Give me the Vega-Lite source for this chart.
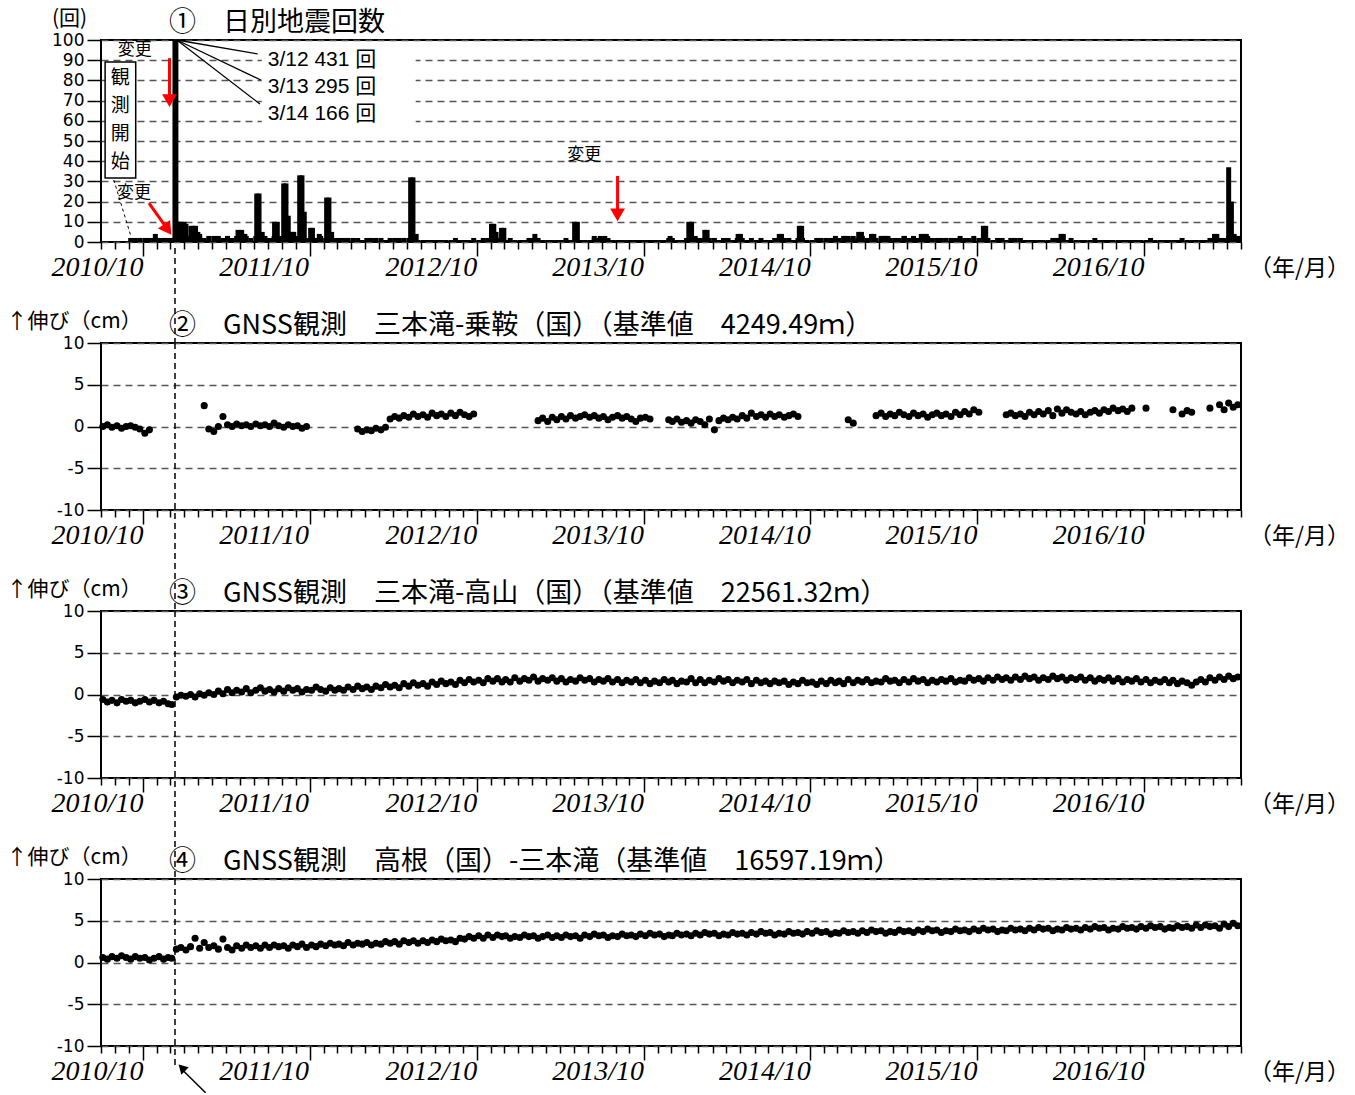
{
"$schema":"https://vega.github.io/schema/vega-lite/v6.json",
"background":"white",
"padding":{"left":5,"top":6,"right":10,"bottom":5},
"bounds":"flush",
"spacing":101,
"config":{
 "font":"Noto Sans CJK JP",
 "view":{"stroke":"black","strokeWidth":2},
 "title":{"anchor":"start","frame":"group","font":"Noto Sans CJK JP","fontSize":27,"fontWeight":"normal","color":"black","offset":4,"dx":68,"dy":34},
 "axis":{"domain":false,"tickColor":"black","tickWidth":1.5,"labelColor":"black","titleColor":"black","titleFontWeight":"normal","titleFont":"Noto Sans CJK JP"},
 "axisY":{"grid":true,"gridColor":"#555555","gridDash":[7,5],"gridWidth":1.3,"tickSize":14,"labelFont":"DejaVu Sans","labelFontSize":17,"labelPadding":3,"labelOverlap":false,"titleAngle":0,"titleBaseline":"middle","titleFontSize":21},
 "axisX":{"grid":false}
},
"datasets":{
"g":[
{"d":"2010-10-05","a":0.0,"b":-0.6,"c":0.6},
{"d":"2010-10-15","a":0.2,"b":-0.9,"c":0.4},
{"d":"2010-10-25","a":-0.1,"b":-0.7,"c":0.7},
{"d":"2010-11-05","a":0.1,"b":-1.0,"c":0.5},
{"d":"2010-11-15","a":-0.2,"b":-0.6,"c":0.8},
{"d":"2010-11-25","a":0.0,"b":-0.8,"c":0.6},
{"d":"2010-12-05","q":2,"a":0.1,"b":-0.7,"c":0.4},
{"d":"2010-12-15","q":2,"a":-0.1,"b":-1.0,"c":0.7},
{"d":"2010-12-25","q":2,"a":-0.3,"b":-0.8,"c":0.5},
{"d":"2011-01-05","q":2,"a":-0.8,"b":-0.6,"c":0.6},
{"d":"2011-01-15","q":2,"a":-0.4,"b":-0.9,"c":0.3},
{"d":"2011-01-25","q":2,"b":-0.7,"c":0.5},
{"d":"2011-02-05","q":2,"b":-1.0,"c":0.7},
{"d":"2011-02-15","q":2,"b":-0.8,"c":0.4},
{"d":"2011-02-25","q":2,"b":-1.1,"c":0.6},
{"d":"2011-03-05","q":2,"b":-1.2,"c":0.5},
{"d":"2011-03-15","q":3,"b":-0.3,"c":1.6},
{"d":"2011-03-25","q":3,"b":-0.1,"c":1.8},
{"d":"2011-04-05","q":3,"b":-0.2,"c":1.5},
{"d":"2011-04-15","q":3,"b":0.0,"c":1.9},
{"d":"2011-04-25","q":3,"b":-0.3,"c":2.9},
{"d":"2011-05-05","q":3,"b":0.1,"c":1.7},
{"d":"2011-05-15","q":2,"a":2.5,"b":-0.1,"c":2.4},
{"d":"2011-05-25","q":3,"a":-0.3,"b":0.2,"c":1.8},
{"d":"2011-06-05","q":3,"a":-0.6,"b":0.0,"c":2.0},
{"d":"2011-06-15","q":3,"a":0.0,"b":0.4,"c":1.6},
{"d":"2011-06-25","q":2,"a":1.2,"b":0.1,"c":2.8},
{"d":"2011-07-05","q":3,"a":0.2,"b":0.6,"c":1.8},
{"d":"2011-07-15","q":2,"a":0.0,"b":0.2,"c":1.5},
{"d":"2011-07-25","q":3,"a":0.3,"b":0.5,"c":2.0},
{"d":"2011-08-05","q":2,"a":0.1,"b":0.3,"c":1.7},
{"d":"2011-08-15","q":3,"a":0.2,"b":0.7,"c":2.1},
{"d":"2011-08-25","q":2,"a":0.0,"b":0.2,"c":1.8},
{"d":"2011-09-05","q":3,"a":0.3,"b":0.5,"c":2.0},
{"d":"2011-09-15","q":2,"a":0.1,"b":0.8,"c":1.7},
{"d":"2011-09-25","q":3,"a":0.2,"b":0.4,"c":2.1},
{"d":"2011-10-05","q":2,"a":0.0,"b":0.6,"c":1.8},
{"d":"2011-10-15","q":3,"a":0.4,"b":0.3,"c":2.1},
{"d":"2011-10-25","q":3,"a":0.1,"b":0.7,"c":1.9},
{"d":"2011-11-05","q":3,"a":-0.1,"b":0.4,"c":2.0},
{"d":"2011-11-15","q":2,"a":0.2,"b":0.8,"c":1.7},
{"d":"2011-11-25","q":3,"a":0.0,"b":0.5,"c":2.1},
{"d":"2011-12-05","q":3,"a":0.1,"b":0.7,"c":1.9},
{"d":"2011-12-15","q":3,"a":-0.2,"b":0.3,"c":2.2},
{"d":"2011-12-25","q":2,"a":0.0,"b":0.6,"c":1.8},
{"d":"2012-01-05","q":3,"b":0.5,"c":2.1},
{"d":"2012-01-15","q":2,"b":0.9,"c":1.9},
{"d":"2012-01-25","q":3,"b":0.6,"c":2.2},
{"d":"2012-02-05","q":2,"b":0.4,"c":2.0},
{"d":"2012-02-15","q":3,"b":0.8,"c":2.3},
{"d":"2012-02-25","q":2,"b":0.5,"c":2.1},
{"d":"2012-03-05","q":2,"b":0.7,"c":2.2},
{"d":"2012-03-15","q":2,"b":0.5,"c":2.0},
{"d":"2012-03-25","q":2,"b":0.9,"c":2.4},
{"d":"2012-04-05","q":2,"b":0.6,"c":2.1},
{"d":"2012-04-15","q":2,"a":-0.3,"b":1.0,"c":2.3},
{"d":"2012-04-25","q":1,"a":-0.6,"b":0.7,"c":2.2},
{"d":"2012-05-05","q":2,"a":-0.4,"b":0.9,"c":2.4},
{"d":"2012-05-15","q":2,"a":-0.5,"b":0.6,"c":2.1},
{"d":"2012-05-25","q":2,"a":-0.2,"b":1.0,"c":2.3},
{"d":"2012-06-05","q":2,"a":-0.4,"b":0.8,"c":2.2},
{"d":"2012-06-15","q":1,"a":-0.1,"b":1.2,"c":2.5},
{"d":"2012-06-25","q":2,"a":0.9,"b":0.9,"c":2.3},
{"d":"2012-07-05","q":2,"a":1.2,"b":1.1,"c":2.5},
{"d":"2012-07-15","q":2,"a":1.0,"b":0.8,"c":2.2},
{"d":"2012-07-25","q":2,"a":1.3,"b":1.3,"c":2.6},
{"d":"2012-08-05","q":2,"a":1.1,"b":1.0,"c":2.4},
{"d":"2012-08-15","q":2,"a":1.5,"b":1.4,"c":2.6},
{"d":"2012-08-25","q":1,"a":1.2,"b":1.1,"c":2.3},
{"d":"2012-09-05","q":1,"a":1.4,"b":1.3,"c":2.6},
{"d":"2012-09-15","q":1,"a":1.1,"b":1.0,"c":2.4},
{"d":"2012-09-25","q":1,"a":1.6,"b":1.5,"c":2.7},
{"d":"2012-10-05","q":1,"a":1.3,"b":1.2,"c":2.5},
{"d":"2012-10-15","q":1,"a":1.5,"b":1.6,"c":2.8},
{"d":"2012-10-25","q":1,"a":1.2,"b":1.3,"c":2.6},
{"d":"2012-11-05","q":1,"a":1.6,"b":1.5,"c":2.7},
{"d":"2012-11-15","q":2,"a":1.3,"b":1.2,"c":2.5},
{"d":"2012-11-25","q":1,"a":1.7,"b":1.7,"c":2.9},
{"d":"2012-12-05","q":1,"a":1.4,"b":1.4,"c":2.8},
{"d":"2012-12-15","q":1,"a":1.2,"b":1.8,"c":3.1},
{"d":"2012-12-25","q":2,"a":1.5,"b":1.5,"c":2.9},
{"d":"2013-01-05","q":1,"b":1.7,"c":3.2},
{"d":"2013-01-15","q":2,"b":1.4,"c":2.9},
{"d":"2013-01-25","q":2,"b":1.9,"c":3.3},
{"d":"2013-02-05","q":2,"b":1.6,"c":3.0},
{"d":"2013-02-15","q":2,"b":1.9,"c":3.3},
{"d":"2013-02-25","q":2,"b":1.5,"c":3.1},
{"d":"2013-03-05","q":1,"b":1.8,"c":3.2},
{"d":"2013-03-15","q":2,"b":1.5,"c":2.9},
{"d":"2013-03-25","q":1,"b":2.0,"c":3.1},
{"d":"2013-04-05","q":1,"b":1.6,"c":3.0},
{"d":"2013-04-15","q":1,"b":1.9,"c":3.3},
{"d":"2013-04-25","q":2,"b":1.7,"c":3.1},
{"d":"2013-05-05","q":2,"b":2.1,"c":3.2},
{"d":"2013-05-15","q":2,"a":0.7,"b":1.6,"c":2.9},
{"d":"2013-05-25","q":1,"a":1.0,"b":1.9,"c":3.1},
{"d":"2013-06-05","q":1,"a":0.6,"b":1.7,"c":3.3},
{"d":"2013-06-15","q":1,"a":1.1,"b":2.0,"c":3.0},
{"d":"2013-06-25","q":1,"a":0.8,"b":1.6,"c":3.2},
{"d":"2013-07-05","q":1,"a":1.2,"b":1.9,"c":3.0},
{"d":"2013-07-15","q":2,"a":0.9,"b":1.5,"c":3.3},
{"d":"2013-07-25","q":1,"a":1.3,"b":1.8,"c":3.1},
{"d":"2013-08-05","q":2,"a":1.0,"b":1.6,"c":3.2},
{"d":"2013-08-15","q":1,"a":1.2,"b":2.0,"c":2.9},
{"d":"2013-08-25","q":1,"a":1.4,"b":1.7,"c":3.3},
{"d":"2013-09-05","q":1,"a":1.1,"b":1.9,"c":3.1},
{"d":"2013-09-15","q":2,"a":1.3,"b":1.5,"c":3.4},
{"d":"2013-09-25","q":2,"a":1.0,"b":1.8,"c":3.2},
{"d":"2013-10-05","q":2,"a":1.2,"b":1.6,"c":3.3},
{"d":"2013-10-15","q":2,"a":0.8,"b":1.9,"c":3.0},
{"d":"2013-10-25","q":1,"a":1.1,"b":1.5,"c":3.2},
{"d":"2013-11-05","q":1,"a":1.3,"b":1.8,"c":3.1},
{"d":"2013-11-15","q":1,"a":1.0,"b":1.4,"c":3.4},
{"d":"2013-11-25","q":1,"a":1.2,"b":1.7,"c":3.2},
{"d":"2013-12-05","q":1,"a":0.9,"b":1.5,"c":3.3},
{"d":"2013-12-15","q":1,"a":0.6,"b":1.8,"c":3.1},
{"d":"2013-12-25","q":1,"a":1.0,"b":1.4,"c":3.4},
{"d":"2014-01-05","q":1,"a":1.1,"b":1.7,"c":3.2},
{"d":"2014-01-15","q":1,"a":0.9,"b":1.3,"c":3.5},
{"d":"2014-01-25","q":1,"b":1.6,"c":3.3},
{"d":"2014-02-05","q":1,"b":1.4,"c":3.4},
{"d":"2014-02-15","q":1,"b":1.8,"c":3.1},
{"d":"2014-02-25","q":2,"a":0.8,"b":1.5,"c":3.3},
{"d":"2014-03-05","q":2,"a":0.6,"b":1.7,"c":3.2},
{"d":"2014-03-15","q":1,"a":0.9,"b":1.3,"c":3.5},
{"d":"2014-03-25","q":1,"a":0.5,"b":1.6,"c":3.3},
{"d":"2014-04-05","q":2,"a":0.7,"b":1.5,"c":3.4},
{"d":"2014-04-15","q":2,"a":0.4,"b":1.9,"c":3.2},
{"d":"2014-04-25","q":2,"a":0.8,"b":1.4,"c":3.5},
{"d":"2014-05-05","q":2,"a":0.6,"b":1.8,"c":3.3},
{"d":"2014-05-15","q":2,"a":0.2,"b":1.4,"c":3.6},
{"d":"2014-05-25","q":2,"a":0.9,"b":1.7,"c":3.4},
{"d":"2014-06-05","q":2,"a":-0.4,"b":1.5,"c":3.5},
{"d":"2014-06-15","q":1,"a":0.7,"b":1.9,"c":3.2},
{"d":"2014-06-25","q":2,"a":1.0,"b":1.6,"c":3.4},
{"d":"2014-07-05","q":2,"a":0.8,"b":1.8,"c":3.3},
{"d":"2014-07-15","q":1,"a":1.1,"b":1.4,"c":3.6},
{"d":"2014-07-25","q":2,"a":0.9,"b":1.7,"c":3.4},
{"d":"2014-08-05","q":2,"a":1.3,"b":1.5,"c":3.5},
{"d":"2014-08-15","q":1,"a":1.0,"b":1.8,"c":3.3},
{"d":"2014-08-25","q":2,"a":1.6,"b":1.3,"c":3.6},
{"d":"2014-09-05","q":1,"a":1.2,"b":1.7,"c":3.4},
{"d":"2014-09-15","q":2,"a":1.4,"b":1.4,"c":3.7},
{"d":"2014-09-25","q":1,"a":1.1,"b":1.6,"c":3.5},
{"d":"2014-10-05","q":1,"a":1.5,"b":1.3,"c":3.6},
{"d":"2014-10-15","q":2,"a":1.2,"b":1.6,"c":3.3},
{"d":"2014-10-25","q":2,"a":1.4,"b":1.4,"c":3.5},
{"d":"2014-11-05","q":2,"a":1.1,"b":1.6,"c":3.4},
{"d":"2014-11-15","q":2,"a":1.3,"b":1.2,"c":3.7},
{"d":"2014-11-25","q":1,"a":1.5,"b":1.5,"c":3.5},
{"d":"2014-12-05","q":2,"a":1.2,"b":1.3,"c":3.6},
{"d":"2014-12-15","q":2,"b":1.7,"c":3.4},
{"d":"2014-12-25","q":1,"b":1.4,"c":3.7},
{"d":"2015-01-05","q":1,"b":1.5,"c":3.5},
{"d":"2015-01-15","q":2,"b":1.2,"c":3.8},
{"d":"2015-01-25","q":2,"b":1.6,"c":3.6},
{"d":"2015-02-05","q":2,"b":1.3,"c":3.7},
{"d":"2015-02-15","q":2,"b":1.7,"c":3.4},
{"d":"2015-02-25","q":3,"b":1.4,"c":3.6},
{"d":"2015-03-05","q":2,"b":1.6,"c":3.5},
{"d":"2015-03-15","q":3,"b":1.3,"c":3.8},
{"d":"2015-03-25","q":2,"a":0.8,"b":1.8,"c":3.6},
{"d":"2015-04-05","q":3,"a":0.4,"b":1.4,"c":3.7},
{"d":"2015-04-15","q":2,"b":1.7,"c":3.5},
{"d":"2015-04-25","q":3,"b":1.5,"c":3.8},
{"d":"2015-05-05","q":2,"b":1.8,"c":3.6},
{"d":"2015-05-15","q":3,"b":1.4,"c":3.9},
{"d":"2015-05-25","q":2,"a":1.3,"b":1.6,"c":3.7},
{"d":"2015-06-05","q":3,"a":1.6,"b":1.5,"c":3.8},
{"d":"2015-06-15","q":3,"a":1.2,"b":1.9,"c":3.5},
{"d":"2015-06-25","q":2,"a":1.5,"b":1.6,"c":3.7},
{"d":"2015-07-05","q":2,"a":1.3,"b":1.7,"c":3.6},
{"d":"2015-07-15","q":2,"a":1.7,"b":1.4,"c":3.9},
{"d":"2015-07-25","q":3,"a":1.4,"b":1.8,"c":3.7},
{"d":"2015-08-05","q":2,"a":1.2,"b":1.5,"c":3.8},
{"d":"2015-08-15","q":3,"a":1.6,"b":1.9,"c":3.6},
{"d":"2015-08-25","q":2,"a":1.3,"b":1.6,"c":3.9},
{"d":"2015-09-05","q":3,"a":1.5,"b":1.8,"c":3.7},
{"d":"2015-09-15","q":3,"a":1.1,"b":1.4,"c":4.0},
{"d":"2015-09-25","q":2,"a":1.4,"b":1.7,"c":3.8},
{"d":"2015-10-05","q":2,"a":1.6,"b":1.5,"c":3.9},
{"d":"2015-10-15","q":2,"a":1.3,"b":1.8,"c":3.6},
{"d":"2015-10-25","q":2,"a":1.5,"b":1.6,"c":3.8},
{"d":"2015-11-05","q":2,"a":1.2,"b":1.9,"c":3.7},
{"d":"2015-11-15","q":2,"a":1.7,"b":1.5,"c":4.0},
{"d":"2015-11-25","q":3,"a":1.4,"b":1.7,"c":3.8},
{"d":"2015-12-05","q":2,"a":1.8,"b":1.6,"c":3.9},
{"d":"2015-12-15","q":2,"a":1.5,"b":2.0,"c":3.7},
{"d":"2015-12-25","q":3,"a":2.0,"b":1.7,"c":4.0},
{"d":"2016-01-05","q":2,"a":1.7,"b":1.9,"c":3.8},
{"d":"2016-01-15","q":2,"b":1.6,"c":4.1},
{"d":"2016-01-25","q":2,"b":2.0,"c":3.9},
{"d":"2016-02-05","q":1,"b":1.7,"c":4.0},
{"d":"2016-02-15","q":2,"b":2.1,"c":3.7},
{"d":"2016-02-25","q":2,"b":1.8,"c":3.9},
{"d":"2016-03-05","q":1,"a":1.4,"b":2.0,"c":3.8},
{"d":"2016-03-15","q":2,"a":1.6,"b":1.7,"c":4.1},
{"d":"2016-03-25","q":2,"a":1.3,"b":2.1,"c":3.9},
{"d":"2016-04-05","q":2,"a":1.5,"b":1.8,"c":4.0},
{"d":"2016-04-15","q":1,"a":1.2,"b":2.2,"c":3.8},
{"d":"2016-04-25","q":1,"a":1.7,"b":1.9,"c":4.1},
{"d":"2016-05-05","q":1,"a":1.4,"b":2.1,"c":3.9},
{"d":"2016-05-15","q":1,"a":1.8,"b":1.7,"c":4.2},
{"d":"2016-05-25","q":1,"a":1.5,"b":2.0,"c":4.0},
{"d":"2016-06-05","q":1,"a":1.9,"b":1.8,"c":4.1},
{"d":"2016-06-15","q":2,"a":1.3,"b":2.2,"c":3.8},
{"d":"2016-06-25","q":2,"a":2.1,"b":1.9,"c":4.0},
{"d":"2016-07-05","q":2,"a":1.6,"b":2.1,"c":3.9},
{"d":"2016-07-15","q":1,"a":2.0,"b":1.7,"c":4.2},
{"d":"2016-07-25","q":2,"a":1.7,"b":2.0,"c":4.0},
{"d":"2016-08-05","q":1,"a":1.5,"b":1.8,"c":4.1},
{"d":"2016-08-15","q":1,"a":1.8,"b":2.1,"c":3.9},
{"d":"2016-08-25","q":1,"a":1.4,"b":1.7,"c":4.2},
{"d":"2016-09-05","q":1,"a":1.7,"b":2.0,"c":4.0},
{"d":"2016-09-15","q":2,"a":1.9,"b":1.6,"c":4.3},
{"d":"2016-09-25","q":1,"a":1.6,"b":1.9,"c":4.1},
{"d":"2016-10-05","q":1,"a":2.0,"b":1.7,"c":4.2},
{"d":"2016-10-15","q":1,"a":1.8,"b":2.0,"c":3.9},
{"d":"2016-10-25","q":1,"a":2.2,"b":1.6,"c":4.1},
{"d":"2016-11-05","q":1,"a":1.9,"b":1.9,"c":4.0},
{"d":"2016-11-15","q":1,"a":2.1,"b":1.5,"c":4.3},
{"d":"2016-11-25","q":1,"a":1.8,"b":1.8,"c":4.1},
{"d":"2016-12-05","q":1,"a":2.2,"b":1.6,"c":4.2},
{"d":"2016-12-15","q":1,"b":1.9,"c":4.0},
{"d":"2016-12-25","q":1,"b":1.5,"c":4.3},
{"d":"2017-01-05","q":1,"a":2.2,"b":1.8,"c":4.1},
{"d":"2017-01-15","q":2,"b":1.4,"c":4.4},
{"d":"2017-01-25","q":1,"b":1.7,"c":4.2},
{"d":"2017-02-05","q":1,"b":1.5,"c":4.3},
{"d":"2017-02-15","q":1,"b":1.8,"c":4.0},
{"d":"2017-02-25","q":1,"b":1.4,"c":4.2},
{"d":"2017-03-05","q":1,"a":2.0,"b":1.7,"c":4.1},
{"d":"2017-03-15","q":1,"b":1.3,"c":4.4},
{"d":"2017-03-25","q":2,"a":1.5,"b":1.6,"c":4.2},
{"d":"2017-04-05","q":1,"a":1.9,"b":1.4,"c":4.3},
{"d":"2017-04-15","q":1,"a":1.7,"b":1.1,"c":4.1},
{"d":"2017-04-25","q":1,"b":1.5,"c":4.5},
{"d":"2017-05-05","q":1,"b":1.8,"c":4.2},
{"d":"2017-05-15","q":1,"b":1.5,"c":4.5},
{"d":"2017-05-25","q":2,"a":2.2,"b":2.0,"c":4.3},
{"d":"2017-06-05","q":2,"b":1.7,"c":4.4},
{"d":"2017-06-15","q":2,"a":2.6,"b":2.1,"c":4.1},
{"d":"2017-06-25","q":2,"a":2.0,"b":1.8,"c":4.6},
{"d":"2017-07-05","q":3,"a":2.8,"b":2.2,"c":4.3},
{"d":"2017-07-15","q":3,"a":2.3,"b":1.9,"c":4.7},
{"d":"2017-07-25","q":3,"a":2.6,"b":2.1,"c":4.4}
],
"s":[
{"d":"2011-01-28","q":4},
{"d":"2011-03-12","q":431},{"d":"2011-03-13","q":295},{"d":"2011-03-14","q":166},
{"d":"2011-03-17","q":10},{"d":"2011-03-22","q":10},{"d":"2011-03-27","q":10},{"d":"2011-04-01","q":10},{"d":"2011-04-05","q":9},{"d":"2011-04-10","q":3},{"d":"2011-04-16","q":8},{"d":"2011-04-21","q":8},{"d":"2011-04-26","q":8},{"d":"2011-05-01","q":5},{"d":"2011-05-05","q":4},
{"d":"2011-07-28","q":6},{"d":"2011-08-05","q":6},{"d":"2011-08-12","q":4},
{"d":"2011-09-07","q":24},{"d":"2011-09-12","q":24},{"d":"2011-09-19","q":5},
{"d":"2011-10-16","q":10},{"d":"2011-10-22","q":10},
{"d":"2011-11-05","q":29},{"d":"2011-11-10","q":29},{"d":"2011-11-15","q":13},{"d":"2011-11-22","q":5},{"d":"2011-11-27","q":5},
{"d":"2011-12-10","q":33},{"d":"2011-12-15","q":33},{"d":"2011-12-20","q":15},
{"d":"2012-01-03","q":7},{"d":"2012-01-07","q":7},{"d":"2012-01-22","q":4},
{"d":"2012-02-07","q":22},{"d":"2012-02-12","q":22},{"d":"2012-02-18","q":5},
{"d":"2012-08-09","q":32},{"d":"2012-08-14","q":32},{"d":"2012-08-21","q":4},
{"d":"2013-02-02","q":9},{"d":"2013-02-07","q":9},{"d":"2013-02-12","q":5},{"d":"2013-02-24","q":7},{"d":"2013-03-01","q":7},
{"d":"2013-05-08","q":4},
{"d":"2013-08-03","q":10},{"d":"2013-08-09","q":10},
{"d":"2013-09-15","q":3},{"d":"2013-09-28","q":3},{"d":"2013-10-08","q":3},
{"d":"2014-02-28","q":3},
{"d":"2014-04-10","q":10},{"d":"2014-04-16","q":10},{"d":"2014-04-24","q":3},
{"d":"2014-05-15","q":6},{"d":"2014-05-20","q":6},
{"d":"2014-07-27","q":4},{"d":"2014-08-01","q":4},
{"d":"2014-10-25","q":4},{"d":"2014-10-30","q":4},
{"d":"2014-12-08","q":8},{"d":"2014-12-13","q":8},
{"d":"2015-03-18","q":3},{"d":"2015-03-25","q":3},
{"d":"2015-04-17","q":5},{"d":"2015-04-23","q":5},
{"d":"2015-05-15","q":4},{"d":"2015-05-20","q":4},
{"d":"2015-06-10","q":3},{"d":"2015-06-20","q":3},
{"d":"2015-07-26","q":3},
{"d":"2015-09-01","q":4},{"d":"2015-09-07","q":4},{"d":"2015-09-12","q":4},
{"d":"2016-01-15","q":8},{"d":"2016-01-20","q":8},
{"d":"2016-07-03","q":4},{"d":"2016-07-08","q":4},
{"d":"2017-06-04","q":4},{"d":"2017-06-09","q":4},
{"d":"2017-07-05","q":37},{"d":"2017-07-11","q":20},{"d":"2017-07-17","q":4}
]
},
"vconcat":[
{
 "width":1140,"height":202,
 "title":{"text":"①　日別地震回数"},
 "encoding":{"x":{"field":"d","type":"temporal","scale":{"type":"utc","padding":0,"domain":[{"year":2010,"month":10,"date":1,"utc":true},{"year":2017,"month":8,"date":1,"utc":true}]},"axis":{"title":"（年/月）","titleX":1198,"titleY":26,"titleAlign":"center","titleBaseline":"middle","titleFontSize":23,"tickCount":{"interval":"month","step":1},"tickSize":{"condition":{"test":"utcmonth(datum.value)===0","value":14},"value":7},"labelExpr":"utcmonth(datum.value)===9 ? utcFormat(datum.value,'%Y/%m') : ''","labelFont":"Liberation Serif","labelFontStyle":"italic","labelFontSize":28,"labelBaseline":"top","labelPadding":4,"labelOffset":-4,"labelOverlap":false,"labelFlush":false,"labelBound":false}}},
 "layer":[
  {"data":{"values":[{"d":"2011-09-18","d2":"2012-08-20","v":57,"v2":96}]},"mark":{"type":"rect","color":"white"},
   "encoding":{"x2":{"field":"d2"},"y":{"field":"v","type":"quantitative","scale":{"domain":[0,100]},"axis":{"values":[0,10,20,30,40,50,60,70,80,90,100],"title":"(回)","titleX":-32,"titleY":-22,"titleAlign":"center"}},"y2":{"field":"v2"}}},
  {"data":{"name":"g"},"mark":{"type":"bar","color":"black","width":5,"clip":true},
   "encoding":{"y":{"field":"q","type":"quantitative","stack":null,"scale":{"domain":[0,100]},"axis":{"values":[0,10,20,30,40,50,60,70,80,90,100],"title":"(回)","titleX":-32,"titleY":-22,"titleAlign":"center"}}}},
  {"data":{"name":"s"},"mark":{"type":"bar","color":"black","width":5,"clip":true},
   "encoding":{"y":{"field":"q","type":"quantitative","stack":null,"scale":{"domain":[0,100]},"axis":{"values":[0,10,20,30,40,50,60,70,80,90,100],"title":"(回)","titleX":-32,"titleY":-22,"titleAlign":"center"}}}},
  {"data":{"values":[{"d":"2010-10-10","d2":"2010-12-16","v":31.7,"v2":89.1}]},"mark":{"type":"rect","fill":"white","stroke":"black","strokeWidth":1.5},
   "encoding":{"x2":{"field":"d2"},"y":{"field":"v","type":"quantitative","scale":{"domain":[0,100]},"axis":{"values":[0,10,20,30,40,50,60,70,80,90,100],"title":"(回)","titleX":-32,"titleY":-22,"titleAlign":"center"}},"y2":{"field":"v2"}}},
  {"data":{"values":[{"d":"2010-11-12","v":81.2,"t":"観\n測\n開\n始"}]},"mark":{"type":"text","lineBreak":"\n","lineHeight":28,"fontSize":19,"align":"center","baseline":"middle","color":"black"},
   "encoding":{"y":{"field":"v","type":"quantitative","scale":{"domain":[0,100]},"axis":{"values":[0,10,20,30,40,50,60,70,80,90,100],"title":"(回)","titleX":-32,"titleY":-22,"titleAlign":"center"}},"text":{"field":"t"}}},
  {"data":{"values":[{"d":"2011-03-16","v":100,"d2":"2011-09-09","v2":93.1},{"d":"2011-03-16","v":100,"d2":"2011-09-16","v2":80.2},{"d":"2011-03-16","v":100,"d2":"2011-09-14","v2":68.3}]},"mark":{"type":"rule","color":"black","strokeWidth":1.3},
   "encoding":{"x2":{"field":"d2"},"y":{"field":"v","type":"quantitative","scale":{"domain":[0,100]},"axis":{"values":[0,10,20,30,40,50,60,70,80,90,100],"title":"(回)","titleX":-32,"titleY":-22,"titleAlign":"center"}},"y2":{"field":"v2"}}},
  {"data":{"values":[{"d":"2010-10-29","v":30.7,"d2":"2010-12-06","v2":2.5}]},"mark":{"type":"rule","color":"black","strokeWidth":1,"strokeDash":[3,3]},
   "encoding":{"x2":{"field":"d2"},"y":{"field":"v","type":"quantitative","scale":{"domain":[0,100]},"axis":{"values":[0,10,20,30,40,50,60,70,80,90,100],"title":"(回)","titleX":-32,"titleY":-22,"titleAlign":"center"}},"y2":{"field":"v2"}}},
  {"data":{"values":[{"d":"2011-03-12","v":-3,"v2":-50}]},"mark":{"type":"rule","color":"black","strokeWidth":1.5,"strokeDash":[6,4]},
   "encoding":{"y":{"field":"v","type":"quantitative","scale":{"domain":[0,100]},"axis":{"values":[0,10,20,30,40,50,60,70,80,90,100],"title":"(回)","titleX":-32,"titleY":-22,"titleAlign":"center"}},"y2":{"field":"v2"}}},
  {"data":{"values":[{"d":"2011-02-28","v":91,"d2":"2011-02-28","v2":72},{"d":"2011-01-14","v":19.3,"d2":"2011-02-22","v2":6.9},{"d":"2013-11-05","v":32.7,"d2":"2013-11-05","v2":15}]},"mark":{"type":"rule","color":"#ff0000","strokeWidth":3},
   "encoding":{"x2":{"field":"d2"},"y":{"field":"v","type":"quantitative","scale":{"domain":[0,100]},"axis":{"values":[0,10,20,30,40,50,60,70,80,90,100],"title":"(回)","titleX":-32,"titleY":-22,"titleAlign":"center"}},"y2":{"field":"v2"}}},
  {"data":{"values":[{"d":"2011-02-28","v":70},{"d":"2013-11-05","v":13.4}]},"mark":{"type":"point","shape":"triangle-down","filled":true,"color":"#ff0000","opacity":1,"size":220},
   "encoding":{"y":{"field":"v","type":"quantitative","scale":{"domain":[0,100]},"axis":{"values":[0,10,20,30,40,50,60,70,80,90,100],"title":"(回)","titleX":-32,"titleY":-22,"titleAlign":"center"}}}},
  {"data":{"values":[{"d":"2011-02-24","v":6.2}]},"mark":{"type":"point","shape":"triangle-down","filled":true,"color":"#ff0000","opacity":1,"size":220,"angle":-35},
   "encoding":{"y":{"field":"v","type":"quantitative","scale":{"domain":[0,100]},"axis":{"values":[0,10,20,30,40,50,60,70,80,90,100],"title":"(回)","titleX":-32,"titleY":-22,"titleAlign":"center"}}}},
  {"data":{"values":[{"d":"2010-12-14","v":95,"t":"変更"},{"d":"2010-12-12","v":24.3,"t":"変更"},{"d":"2013-08-24","v":43.1,"t":"変更"}]},"mark":{"type":"text","fontSize":17,"align":"center","baseline":"middle","color":"black"},
   "encoding":{"y":{"field":"v","type":"quantitative","scale":{"domain":[0,100]},"axis":{"values":[0,10,20,30,40,50,60,70,80,90,100],"title":"(回)","titleX":-32,"titleY":-22,"titleAlign":"center"}},"text":{"field":"t"}}},
  {"data":{"values":[{"d":"2011-10-01","v":90.1,"t":"3/12  431 回"},{"d":"2011-10-01","v":76.7,"t":"3/13  295 回"},{"d":"2011-10-01","v":63.4,"t":"3/14  166 回"}]},"mark":{"type":"text","font":"Liberation Sans, Noto Sans CJK JP","fontSize":21,"align":"left","baseline":"middle","color":"black"},
   "encoding":{"y":{"field":"v","type":"quantitative","scale":{"domain":[0,100]},"axis":{"values":[0,10,20,30,40,50,60,70,80,90,100],"title":"(回)","titleX":-32,"titleY":-22,"titleAlign":"center"}},"text":{"field":"t"}}}
 ]
},
{
 "width":1140,"height":167,
 "title":{"text":"②　GNSS観測　三本滝-乗鞍（国）（基準値　4249.49ｍ）"},
 "encoding":{"x":{"field":"d","type":"temporal","scale":{"type":"utc","domain":[{"year":2010,"month":10,"date":1,"utc":true},{"year":2017,"month":8,"date":1,"utc":true}]},"axis":{"title":"（年/月）","titleX":1198,"titleY":26,"titleAlign":"center","titleBaseline":"middle","titleFontSize":23,"tickCount":{"interval":"month","step":1},"tickSize":{"condition":{"test":"utcmonth(datum.value)===0","value":14},"value":7},"labelExpr":"utcmonth(datum.value)===9 ? utcFormat(datum.value,'%Y/%m') : ''","labelFont":"Liberation Serif","labelFontStyle":"italic","labelFontSize":28,"labelBaseline":"top","labelPadding":4,"labelOffset":-4,"labelOverlap":false,"labelFlush":false,"labelBound":false}}},
 "layer":[
  {"data":{"name":"g"},"mark":{"type":"point","filled":true,"color":"black","opacity":1,"size":50},
   "encoding":{"y":{"field":"a","type":"quantitative","scale":{"domain":[-10,10]},"axis":{"values":[-10,-5,0,5,10],"labelExpr":"datum.value < 0 ? '-' + abs(datum.value) : '' + datum.value","title":"↑伸び（cm）","titleX":-95,"titleY":-22,"titleAlign":"left"}}}},
  {"data":{"values":[{"d":"2011-03-12","v":10,"v2":-22.1}]},"mark":{"type":"rule","color":"black","strokeWidth":1.5,"strokeDash":[6,4]},
   "encoding":{"y":{"field":"v","type":"quantitative","scale":{"domain":[-10,10]}},"y2":{"field":"v2"}}}
 ]
},
{
 "width":1140,"height":167,
 "title":{"text":"③　GNSS観測　三本滝-高山（国）（基準値　22561.32ｍ）"},
 "encoding":{"x":{"field":"d","type":"temporal","scale":{"type":"utc","domain":[{"year":2010,"month":10,"date":1,"utc":true},{"year":2017,"month":8,"date":1,"utc":true}]},"axis":{"title":"（年/月）","titleX":1198,"titleY":26,"titleAlign":"center","titleBaseline":"middle","titleFontSize":23,"tickCount":{"interval":"month","step":1},"tickSize":{"condition":{"test":"utcmonth(datum.value)===0","value":14},"value":7},"labelExpr":"utcmonth(datum.value)===9 ? utcFormat(datum.value,'%Y/%m') : ''","labelFont":"Liberation Serif","labelFontStyle":"italic","labelFontSize":28,"labelBaseline":"top","labelPadding":4,"labelOffset":-4,"labelOverlap":false,"labelFlush":false,"labelBound":false}}},
 "layer":[
  {"data":{"name":"g"},"mark":{"type":"point","filled":true,"color":"black","opacity":1,"size":50},
   "encoding":{"y":{"field":"b","type":"quantitative","scale":{"domain":[-10,10]},"axis":{"values":[-10,-5,0,5,10],"labelExpr":"datum.value < 0 ? '-' + abs(datum.value) : '' + datum.value","title":"↑伸び（cm）","titleX":-95,"titleY":-22,"titleAlign":"left"}}}},
  {"data":{"values":[{"d":"2011-03-12","v":10,"v2":-22.2}]},"mark":{"type":"rule","color":"black","strokeWidth":1.5,"strokeDash":[6,4]},
   "encoding":{"y":{"field":"v","type":"quantitative","scale":{"domain":[-10,10]}},"y2":{"field":"v2"}}}
 ]
},
{
 "width":1140,"height":167,
 "title":{"text":"④　GNSS観測　高根（国）-三本滝（基準値　16597.19ｍ）"},
 "encoding":{"x":{"field":"d","type":"temporal","scale":{"type":"utc","domain":[{"year":2010,"month":10,"date":1,"utc":true},{"year":2017,"month":8,"date":1,"utc":true}]},"axis":{"title":"（年/月）","titleX":1198,"titleY":26,"titleAlign":"center","titleBaseline":"middle","titleFontSize":23,"tickCount":{"interval":"month","step":1},"tickSize":{"condition":{"test":"utcmonth(datum.value)===0","value":14},"value":7},"labelExpr":"utcmonth(datum.value)===9 ? utcFormat(datum.value,'%Y/%m') : ''","labelFont":"Liberation Serif","labelFontStyle":"italic","labelFontSize":28,"labelBaseline":"top","labelPadding":4,"labelOffset":-4,"labelOverlap":false,"labelFlush":false,"labelBound":false}}},
 "layer":[
  {"data":{"name":"g"},"mark":{"type":"point","filled":true,"color":"black","opacity":1,"size":50},
   "encoding":{"y":{"field":"c","type":"quantitative","scale":{"domain":[-10,10]},"axis":{"values":[-10,-5,0,5,10],"labelExpr":"datum.value < 0 ? '-' + abs(datum.value) : '' + datum.value","title":"↑伸び（cm）","titleX":-95,"titleY":-22,"titleAlign":"left"}}}},
  {"data":{"values":[{"d":"2011-03-12","v":10,"v2":-12.3}]},"mark":{"type":"rule","color":"black","strokeWidth":1.5,"strokeDash":[6,4]},
   "encoding":{"y":{"field":"v","type":"quantitative","scale":{"domain":[-10,10]}},"y2":{"field":"v2"}}},
  {"data":{"values":[{"d":"2011-05-18","v":-15.6,"d2":"2011-03-29","v2":-12.9}]},"mark":{"type":"rule","color":"black","strokeWidth":1.5},
   "encoding":{"x2":{"field":"d2"},"y":{"field":"v","type":"quantitative","scale":{"domain":[-10,10]}},"y2":{"field":"v2"}}},
  {"data":{"values":[{"d":"2011-03-27","v":-12.6}]},"mark":{"type":"point","shape":"triangle-up","filled":true,"color":"black","opacity":1,"size":110,"angle":-45},
   "encoding":{"y":{"field":"v","type":"quantitative","scale":{"domain":[-10,10]}}}}
 ]
}
]
}
